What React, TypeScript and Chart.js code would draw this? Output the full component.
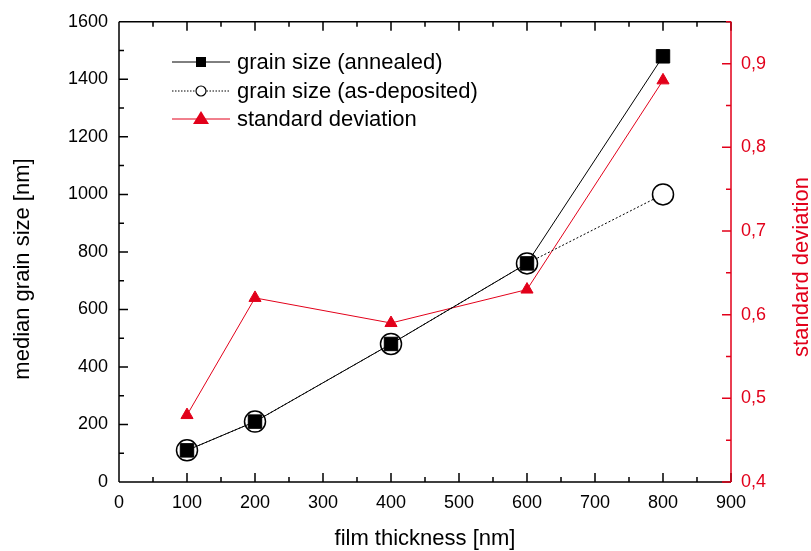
import React, { useEffect, useRef } from 'react';
import { Chart, registerables } from 'chart.js';

Chart.register(...registerables);

// ---- data ----
const thickness = [100, 200, 400, 600, 800];
const grainAnnealed = [110, 210, 480, 760, 1480];
const grainAsDeposited = [110, 210, 480, 760, 1000];
const stdDeviation = [0.48, 0.62, 0.59, 0.63, 0.88];
const seriesLabels = ['grain size (annealed)', 'grain size (as-deposited)', 'standard deviation'];
const xTitle = 'film thickness [nm]';
const yTitle = 'median grain size [nm]';
const y2Title = 'standard deviation';

const RED = '#e2001a';
const FONT = '"Liberation Sans", Arial, Helvetica, sans-serif';

function minorValues(scale: any): { v: number; major: boolean }[] {
  const vals = scale.ticks.map((t: any) => t.value);
  const out: { v: number; major: boolean }[] = [];
  if (vals.length < 2) return out;
  const step = vals[1] - vals[0];
  vals.forEach((v: number) => {
    out.push({ v, major: true });
    const m = v + step / 2;
    if (m <= scale.max + 1e-9) out.push({ v: m, major: false });
  });
  return out;
}

const framePlugin = {
  id: 'frame',
  afterDraw(chart: any) {
    const { ctx, chartArea: a, scales } = chart;
    const sx = scales.x, sy = scales.y, sy2 = scales.y2;
    ctx.save();
    ctx.lineWidth = 1.5;
    // black ticks
    ctx.strokeStyle = '#000';
    ctx.beginPath();
    minorValues(sx).forEach(({ v, major }) => {
      const px = sx.getPixelForValue(v);
      const len = major ? 9 : 5;
      ctx.moveTo(px, a.bottom);
      ctx.lineTo(px, a.bottom - len);
      ctx.moveTo(px, a.top);
      ctx.lineTo(px, a.top + len);
    });
    minorValues(sy).forEach(({ v, major }) => {
      const py = sy.getPixelForValue(v);
      const len = major ? 9 : 5;
      ctx.moveTo(a.left, py);
      ctx.lineTo(a.left + len, py);
    });
    // black frame
    ctx.moveTo(a.left, a.top);
    ctx.lineTo(a.right, a.top);
    ctx.moveTo(a.left, a.bottom);
    ctx.lineTo(a.right, a.bottom);
    ctx.moveTo(a.left, a.top);
    ctx.lineTo(a.left, a.bottom);
    ctx.stroke();
    // red right axis
    ctx.strokeStyle = RED;
    ctx.beginPath();
    minorValues(sy2).forEach(({ v, major }) => {
      const py = sy2.getPixelForValue(v);
      const len = major ? 9 : 5;
      ctx.moveTo(a.right, py);
      ctx.lineTo(a.right - len, py);
    });
    ctx.moveTo(a.right, a.top);
    ctx.lineTo(a.right, a.bottom);
    ctx.stroke();

    // titles
    ctx.font = `22px ${FONT}`;
    ctx.textAlign = 'center';
    ctx.textBaseline = 'alphabetic';
    ctx.fillStyle = '#000';
    ctx.fillText(xTitle, (a.left + a.right) / 2, 545);
    ctx.save();
    ctx.translate(29, 269);
    ctx.rotate(-Math.PI / 2);
    ctx.fillText(yTitle, 0, 0);
    ctx.restore();
    ctx.save();
    ctx.fillStyle = RED;
    ctx.translate(808, 267);
    ctx.rotate(-Math.PI / 2);
    ctx.fillText(y2Title, 0, 0);
    ctx.restore();

    // legend
    const rows = [62, 91, 119];
    const lx0 = 172, lx1 = 230, mx = 201, tx = 237;
    ctx.lineWidth = 1;
    // row 1: annealed
    ctx.strokeStyle = '#000';
    ctx.beginPath();
    ctx.moveTo(lx0, rows[0]);
    ctx.lineTo(lx1, rows[0]);
    ctx.stroke();
    ctx.fillStyle = '#000';
    ctx.fillRect(mx - 5, rows[0] - 5, 10, 10);
    // row 2: as-deposited
    ctx.setLineDash([1.5, 1.5]);
    ctx.beginPath();
    ctx.moveTo(lx0, rows[1]);
    ctx.lineTo(mx - 5.5, rows[1]);
    ctx.moveTo(mx + 5.5, rows[1]);
    ctx.lineTo(lx1, rows[1]);
    ctx.stroke();
    ctx.setLineDash([]);
    ctx.beginPath();
    ctx.arc(mx, rows[1], 5, 0, Math.PI * 2);
    ctx.fillStyle = '#fff';
    ctx.fill();
    ctx.lineWidth = 1.2;
    ctx.stroke();
    // row 3: std dev
    ctx.lineWidth = 1;
    ctx.strokeStyle = RED;
    ctx.beginPath();
    ctx.moveTo(lx0, rows[2]);
    ctx.lineTo(lx1, rows[2]);
    ctx.stroke();
    ctx.fillStyle = RED;
    ctx.beginPath();
    ctx.moveTo(mx, rows[2] - 8);
    ctx.lineTo(mx + 8, rows[2] + 5);
    ctx.lineTo(mx - 8, rows[2] + 5);
    ctx.closePath();
    ctx.fill();
    // legend texts
    ctx.fillStyle = '#000';
    ctx.textAlign = 'left';
    ctx.textBaseline = 'middle';
    ctx.font = `22px ${FONT}`;
    seriesLabels.forEach((t, i) => ctx.fillText(t, tx, rows[i] + 1));
    ctx.restore();
  },
};

export default function App() {
  const ref = useRef<HTMLCanvasElement | null>(null);
  useEffect(() => {
    if (!ref.current) return;
    document.body.style.margin = '0';
    const tickFont = { family: FONT, size: 18 };
    const chart = new Chart(ref.current, {
      type: 'line',
      data: {
        datasets: [
          {
            label: seriesLabels[0],
            data: thickness.map((x, i) => ({ x, y: grainAnnealed[i] })),
            yAxisID: 'y',
            borderColor: '#000',
            backgroundColor: '#000',
            borderWidth: 1,
            pointStyle: 'rect',
            pointRadius: 9.5,
            pointBorderWidth: 1,
            pointBackgroundColor: '#000',
            pointBorderColor: '#000',
            clip: false,
          },
          {
            label: seriesLabels[1],
            data: thickness.map((x, i) => ({ x, y: grainAsDeposited[i] })),
            yAxisID: 'y',
            borderColor: '#000',
            borderWidth: 1,
            borderDash: [2, 2],
            pointStyle: 'circle',
            pointRadius: 10.5,
            pointBorderWidth: 1.5,
            pointBackgroundColor: '#fff',
            pointBorderColor: '#000',
            clip: false,
          },
          {
            label: seriesLabels[2],
            data: thickness.map((x, i) => ({ x, y: stdDeviation[i] })),
            yAxisID: 'y2',
            borderColor: RED,
            backgroundColor: RED,
            borderWidth: 1,
            pointStyle: 'triangle',
            pointRadius: 7,
            pointBorderWidth: 1,
            pointBackgroundColor: RED,
            pointBorderColor: RED,
            clip: false,
          },
        ],
      },
      options: {
        responsive: false,
        animation: false,
        layout: { padding: { top: 17, left: 0, right: 0, bottom: 0 } },
        plugins: { legend: { display: false }, tooltip: { enabled: false } },
        scales: {
          x: {
            type: 'linear',
            position: 'bottom',
            min: 0,
            max: 900,
            ticks: {
              stepSize: 100,
              font: tickFont,
              color: '#000',
              padding: 10,
              maxRotation: 0,
              autoSkip: false,
              includeBounds: false,
              callback: (v: any) => String(v),
            },
            grid: { display: false, drawTicks: false },
            border: { display: false },
            afterFit: (s: any) => {
              s.height = 69;
            },
          },
          y: {
            type: 'linear',
            position: 'left',
            min: 0,
            max: 1600,
            ticks: {
              stepSize: 200,
              font: tickFont,
              color: '#000',
              padding: 11,
              includeBounds: false,
              callback: (v: any) => String(v),
            },
            grid: { display: false, drawTicks: false },
            border: { display: false },
            afterFit: (s: any) => {
              s.width = 119;
            },
          },
          y2: {
            type: 'linear',
            position: 'right',
            min: 0.4,
            max: 0.95,
            ticks: {
              stepSize: 0.1,
              font: tickFont,
              color: RED,
              padding: 10,
              includeBounds: false,
              callback: (v: any) => Number(v).toFixed(1).replace('.', ','),
            },
            grid: { display: false, drawTicks: false },
            border: { display: false },
            afterFit: (s: any) => {
              s.width = 80;
            },
          },
        },
      },
      plugins: [framePlugin],
    } as any);
    return () => chart.destroy();
  }, []);
  return (
    <canvas
      ref={ref}
      width={811}
      height={551}
      style={{ display: 'block', position: 'fixed', left: 0, top: 0, background: '#fff' }}
    />
  );
}
